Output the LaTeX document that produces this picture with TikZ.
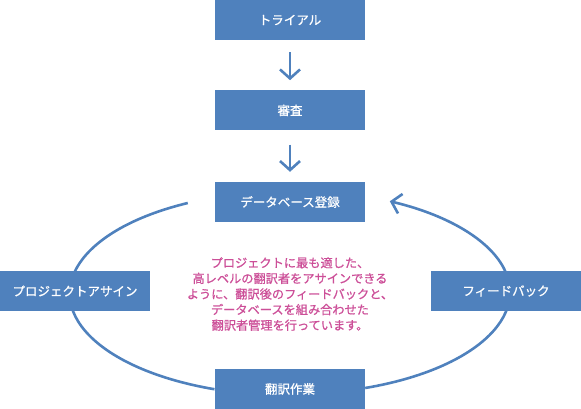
\documentclass[tikz,border=0pt]{standalone}
\usepackage{fontspec}
\setmainfont{Noto Sans CJK JP}
\newfontfamily\jpfont{Noto Sans CJK JP}[FakeBold=0.9]
\usetikzlibrary{positioning,arrows.meta}
\definecolor{boxblue}{HTML}{4F81BD}
\definecolor{notepink}{HTML}{CC4F98}
\begin{document}
\begin{tikzpicture}[x=1pt, y=1pt, node distance={50pt},
		box/.style = {fill=boxblue, text=white, minimum width=150pt, minimum height=40pt, inner sep=0pt, font=\jpfont\fontsize{12.5}{14}\selectfont},
		flow/.style = {draw=boxblue, line width=2.6pt, -{Straight Barb[length=9pt, width=20pt, line width=2.6pt]}},
		loopline/.style = {draw=boxblue, line width=2.6pt}]
		\useasboundingbox (0,0) rectangle (581,-409);
		\node[box] (trial) at (290,-20) {トライアル};
		\node[box] (review) [below=of trial] {審査};
		\node[box] (dbreg) at (290,-202) {データベース登録};
		\node[box] (work) at (290,-389) {翻訳作業};
		% cycle around the note
		\coordinate (lstart) at ([xshift=-27pt, yshift=-1pt]dbreg.west);
		\coordinate (rstart) at ([yshift=1pt]work.east);
		\draw[loopline] (lstart) arc[start angle=117.6, end angle=250, x radius=220, y radius=102];
		\draw[flow] (rstart) arc[start angle=-70, end angle=63, x radius=220, y radius=102];
		\node[box] (assign) at (75,-291) {プロジェクトアサイン};
		\node[box] (feedback) at (506,-291) {フィードバック};
		\node[text=notepink, align=center, font=\jpfont\fontsize{12.2}{15.6}\selectfont] (note) at (290,-294)
			{プロジェクトに最も適した、\\高レベルの翻訳者をアサインできる\\ように、翻訳後のフィードバックと、\\データベースを組み合わせた\\翻訳者管理を行っています。};
		\path
			(trial) edge [flow, shorten <=12pt, shorten >=10pt] (review)
			(review) edge [flow, shorten <=14pt, shorten >=10pt] (dbreg);
	\end{tikzpicture}
\end{document}
